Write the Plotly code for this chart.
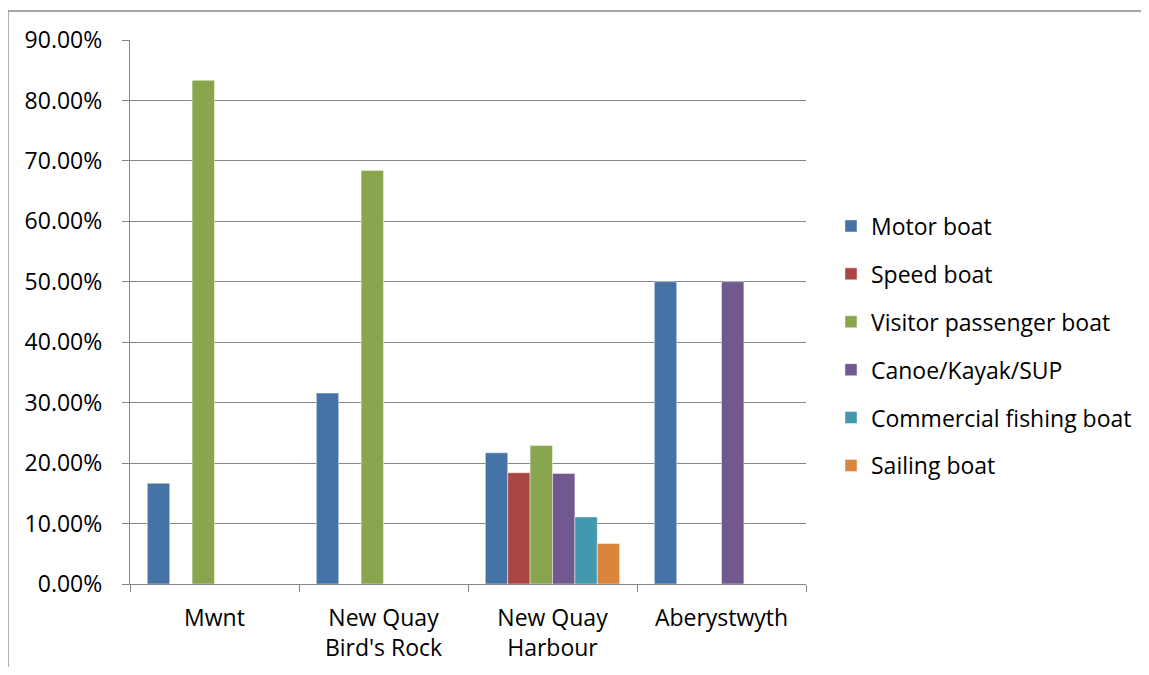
import plotly.graph_objects as go

categories = ["Mwnt", "New Quay<br>Bird's Rock", "New Quay<br>Harbour", "Aberystwyth"]
series_names = ["Motor boat", "Speed boat", "Visitor passenger boat",
                "Canoe/Kayak/SUP", "Commercial fishing boat", "Sailing boat"]
motor_boat = [0.1667, 0.3158, 0.217, 0.50]
speed_boat = [0.0, 0.0, 0.184, 0.0]
visitor_passenger_boat = [0.8333, 0.6842, 0.229, 0.0]
canoe_kayak_sup = [0.0, 0.0, 0.183, 0.50]
commercial_fishing_boat = [0.0, 0.0, 0.111, 0.0]
sailing_boat = [0.0, 0.0, 0.067, 0.0]
colors = ["#4572A7", "#AA4643", "#89A54E", "#71588F", "#4198AF", "#DB843D"]

series_values = [motor_boat, speed_boat, visitor_passenger_boat,
                 canoe_kayak_sup, commercial_fishing_boat, sailing_boat]

FONT = "Open Sans"
FS = 23
fig = go.Figure()
for i, (name, vals) in enumerate(zip(series_names, series_values)):
    fig.add_trace(go.Bar(
        x=categories, y=vals, name=name, legendgroup=name,
        marker=dict(color=colors[i], line=dict(color="rgba(255,255,255,0.45)", width=1)),
    ))

OFF = 8  # page body margin offset
W, H = 1149 - 2 * OFF, 675 - 2 * OFF
L, R, T, B = 130, 806, 40, 584
pw, ph = R - L, B - T

def px(x):
    return (x - L) / pw

def py(y):
    return (B - y) / ph

fig.update_layout(
    width=W, height=H,
    margin=dict(l=L - OFF, r=W - (R - OFF), t=T - OFF, b=H - (B - OFF), pad=0,
                autoexpand=False),
    paper_bgcolor="white", plot_bgcolor="white",
    barmode="group", bargap=0.205, bargroupgap=0,
    font=dict(family=FONT, size=FS, color="#000000"),
    showlegend=True,
    legend=dict(x=px(831), xanchor="left", y=py(346), yanchor="middle",
                font=dict(family=FONT, size=FS, color="#000000"),
                tracegroupgap=15, itemwidth=30, bgcolor="rgba(0,0,0,0)",
                traceorder="grouped"),
    xaxis=dict(showline=True, linecolor="#868686", linewidth=1.3,
               ticks="outside", tickson="boundaries", ticklen=7, tickcolor="#868686",
               tickwidth=1.3, showgrid=False, ticklabelstandoff=13, automargin=False,
               tickfont=dict(family=FONT, size=FS, color="#000000")),
    yaxis=dict(range=[0, 0.9], dtick=0.1, tickformat=".2%",
               showline=True, linecolor="#868686", linewidth=1.3,
               ticks="outside", ticklen=7, tickcolor="#868686", tickwidth=1.3,
               showgrid=True, gridcolor="#868686", gridwidth=1.3,
               zeroline=False, ticklabelstandoff=15, automargin=False,
               tickfont=dict(family=FONT, size=FS, color="#000000")),
    shapes=[
        dict(type="line", xref="paper", yref="paper",
             x0=px(8), y0=py(690), x1=px(8), y1=py(11),
             line=dict(color="#868686", width=1.3)),
        dict(type="line", xref="paper", yref="paper",
             x0=px(8), y0=py(11), x1=px(1160), y1=py(11),
             line=dict(color="#868686", width=1.3)),
    ],
)

fig.write_html("out.html")
